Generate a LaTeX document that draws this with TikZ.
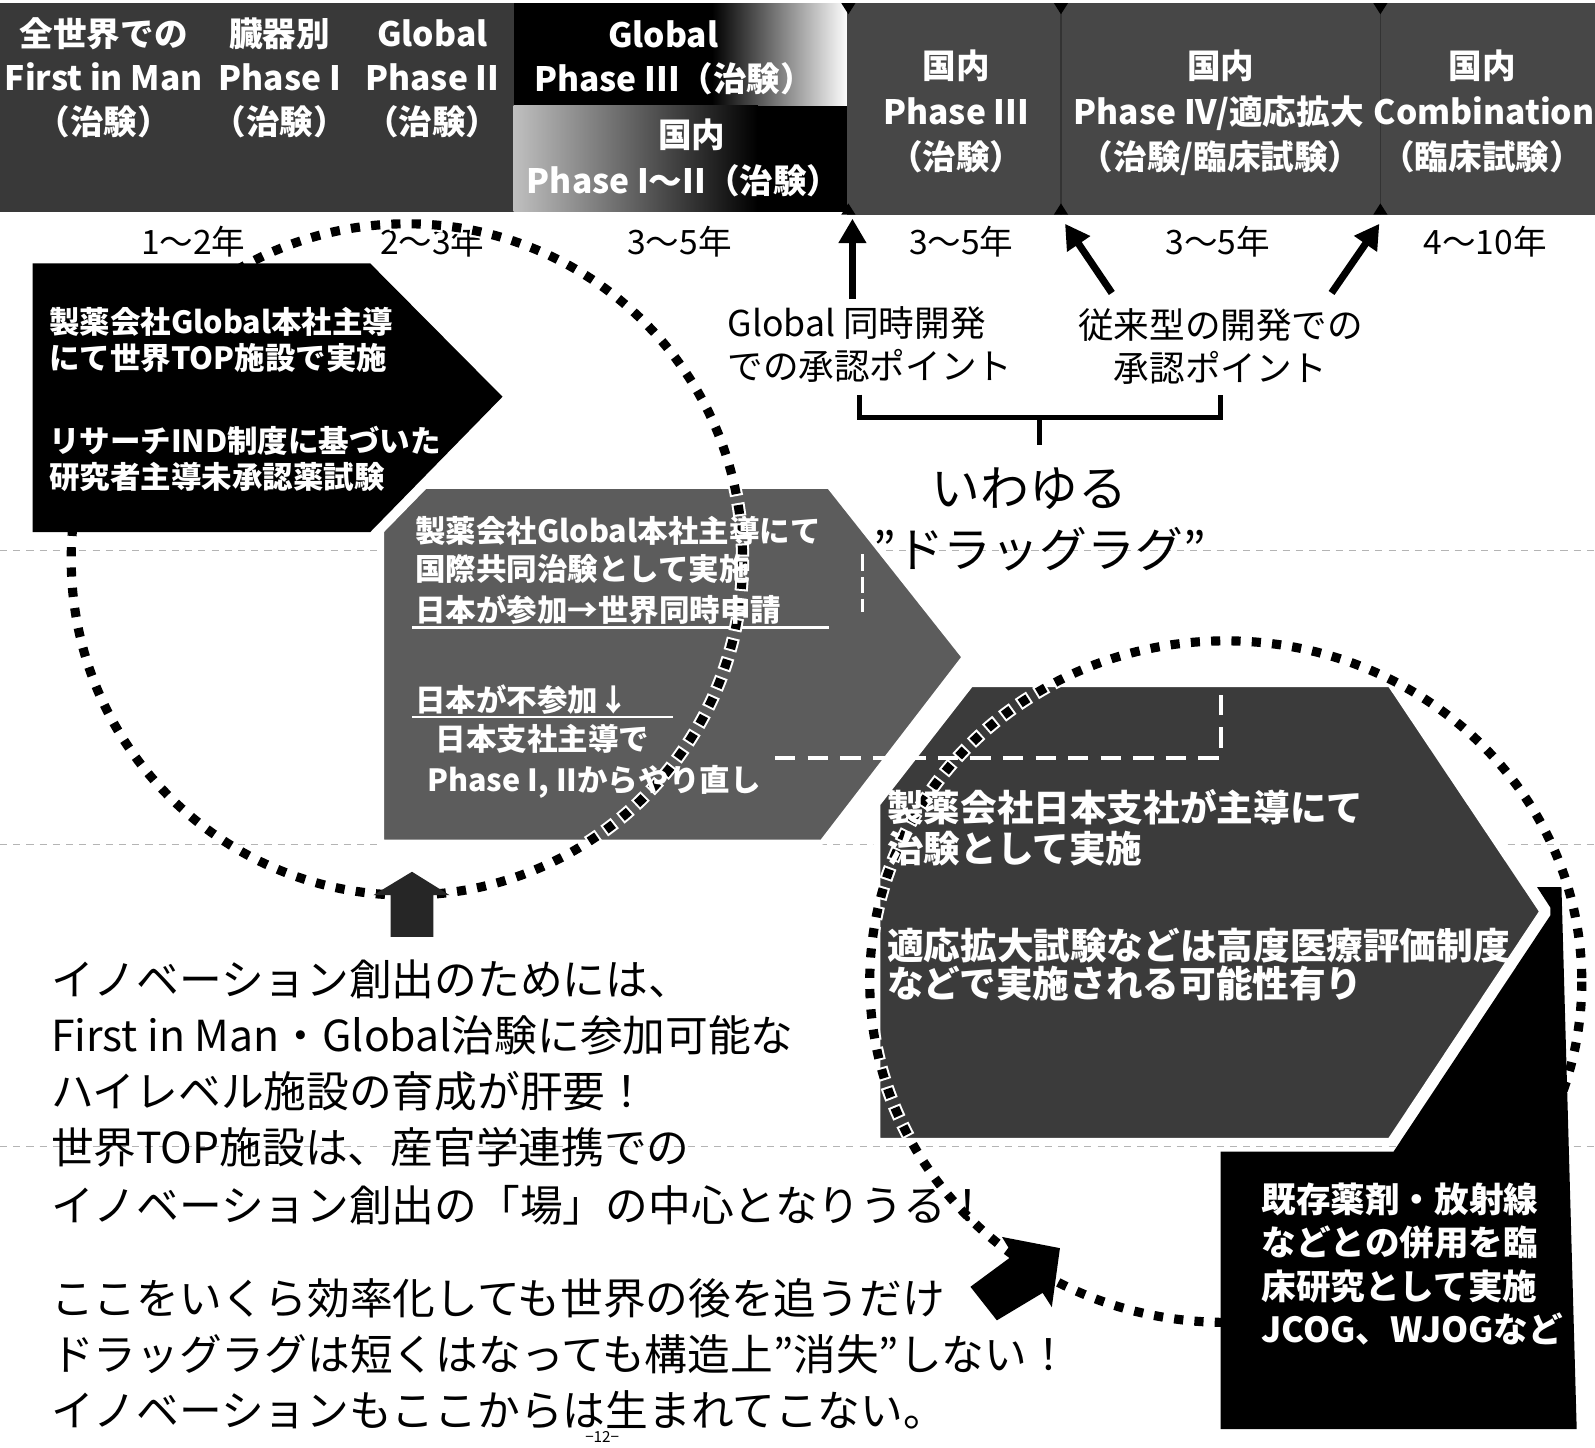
\documentclass[tikz,border=0pt]{standalone}
\usepackage{fontspec}
\setmainfont{Noto Sans CJK JP}
\usetikzlibrary{arrows.meta}
\definecolor{bandL}{HTML}{393939}
\definecolor{bandR}{HTML}{474747}
\definecolor{midgray}{HTML}{5C5C5C}
\definecolor{darkshape}{HTML}{3B3B3B}
\definecolor{scanline}{HTML}{B4B4B4}
\newcommand\myfs[2]{\fontsize{#1}{#2}\selectfont}
\begin{document}
\begin{tikzpicture}[x=1pt,y=-1pt,
  every node/.style={inner sep=0pt},
  hd/.style={text=white, font=\bfseries\myfs{33}{40}, anchor=base},
  yr/.style={font=\myfs{33}{40}, anchor=base},
  lb/.style={font=\myfs{35}{42}},
  wb/.style={text=white, font=\bfseries\myfs{30}{38}, anchor=base west},
  rb/.style={text=white, font=\bfseries\myfs{36}{42}, anchor=base west},
  kb/.style={text=white, font=\bfseries\myfs{34}{42}, anchor=base west},
  bt/.style={font=\myfs{42}{50}, anchor=base west},
  arr/.style={line width=7pt, -{Triangle[length=24pt,width=26pt]}},
  dotw/.style={white, line width=13pt, dash pattern=on 13pt off 7pt, dash phase=2pt},
  dotk/.style={black, line width=9pt, dash pattern=on 9pt off 11pt},
  wdash/.style={white, line width=4pt, dash pattern=on 20pt off 12pt},
  scan/.style={scanline, line width=1.5pt, dash pattern=on 7pt off 6pt}
]
\fill[white] (0,0) rectangle (1568,1423);
\useasboundingbox (0,0) rectangle (1568,1423);

% faint scan lines
\draw[scan] (0,541) -- (1568,541);
\draw[scan] (0,830) -- (1568,830);
\draw[scan] (0,1127) -- (1568,1127);

% top band
\fill[bandL] (0,3) rectangle (506,208);
\fill[black] (505,3) rectangle (834,104);
\shade[left color=black, right color=white] (700,3) rectangle (834,104);
\shade[left color=gray!50, right color=black] (505,104) rectangle (745,208);
\fill[black] (744,104) rectangle (834,208);
\fill[bandR] (833,3) rectangle (1568,211);
\draw[black!80, line width=1.2pt] (1043,3) -- (1043,211) (1357,3) -- (1357,211);
\foreach \tx in {834,1043,1357} {
  \fill[black] (\tx-7,3) -- (\tx+7,3) -- (\tx,14) -- cycle;
  \fill[black] (\tx-7,211) -- (\tx+7,211) -- (\tx,200) -- cycle;
}

% headings
\node[hd] (a1) at (102,46) {全世界での};
\node[hd] (a2) at (102,89) {First in Man};
\node[hd] (a3) at (102,132) {（治験）};
\node[hd] (b1) at (275,46) {臓器別};
\node[hd] (b2) at (275,89) {Phase I};
\node[hd] (b3) at (275,132) {（治験）};
\node[hd] (c1) at (425,46) {Global};
\node[hd] (c2) at (425,89) {Phase II};
\node[hd] (c3) at (425,132) {（治験）};
\node[hd] (d1) at (652,47) {Global};
\node[hd, anchor=base west] (d2) at (525,90) {Phase III（治験）};
\node[hd] (e1) at (680,145) {国内};
\node[hd] (e2) at (672,190) {Phase I〜II（治験）};
\node[hd] (f1) at (940,77) {国内};
\node[hd] (f2) at (940,122) {Phase III};
\node[hd] (f3) at (940,167) {（治験）};
\node[hd] (g1) at (1200,77) {国内};
\node[hd] (g2) at (1198,122) {Phase IV/適応拡大};
\node[hd] (g3) at (1200,167) {（治験/臨床試験）};
\node[hd] (h1) at (1457,77) {国内};
\node[hd] (h2) at (1459,122) {Combination};
\node[hd] (h3) at (1457,167) {（臨床試験）};

% years
\node[yr] (y1) at (190,250) {1〜2年};
\node[yr] (y2) at (425,250) {2〜3年};
\node[yr] (y3) at (668,250) {3〜5年};
\node[yr] (y4) at (945,250) {3〜5年};
\node[yr] (y5) at (1197,250) {3〜5年};
\node[yr] (y6) at (1460,250) {4〜10年};

% approval point arrows
\coordinate (p1) at (838,215); \coordinate (s1) at (838,294);
\coordinate (p2) at (1047,220); \coordinate (s2) at (1093,288);
\coordinate (p3) at (1356,220); \coordinate (s3) at (1309,288);
\draw[arr] (s1) -- (p1);
\draw[arr] (s2) -- (p2);
\draw[arr] (s3) -- (p3);

\node[lb, anchor=base west] (gA1) at (715,331) {Global 同時開発};
\node[lb, anchor=base west] (gA2) at (715,373) {での承認ポイント};
\node[lb, anchor=base] (gB1) at (1200,333) {従来型の開発での};
\node[lb, anchor=base] (gB2) at (1200,375) {承認ポイント};

% bracket
\coordinate (bL) at (845,388); \coordinate (bR) at (1200,388);
\coordinate (bM) at (1022,410); \coordinate (bS) at (1022,437);
\draw[line width=5pt] (bL) -- (845,410) -- (1200,410) -- (bR);
\draw[line width=5pt] (bM) -- (bS);

\node[font=\myfs{48}{58}, anchor=base] (iw) at (1012,498) {いわゆる};
\node[font=\myfs{47}{58}, anchor=base] (dl) at (1022,558) {”ドラッグラグ”};

% middle gray box
\filldraw[fill=midgray, draw=white, line width=5pt, line join=round]
  (375,522) -- (418,478) -- (815,478) -- (948,646) -- (808,828) -- (375,828) -- cycle;
% big right shape
\filldraw[fill=darkshape, draw=white, line width=7pt, line join=round]
  (954,672) -- (1367,672) -- (1517,896) -- (1367,1122) -- (862,1122) -- (862,790) -- cycle;

% white dashed guides
\draw[wdash] (762,745) -- (1200,745) -- (1200,676);
\draw[white, line width=3pt, dash pattern=on 16pt off 6pt] (848,545) -- (848,602);
\draw[white, line width=2.5pt] (405,617) -- (815,617);
\draw[white, line width=2.5pt] (405,705) -- (662,705);

% dotted circles
\draw[dotw] (400,550) circle[radius=330];
\draw[dotk] (400,550) circle[radius=330];
\draw[dotw] (1205,965) ellipse[x radius=350, y radius=335];
\draw[dotk] (1205,965) ellipse[x radius=350, y radius=335];

% left black arrow (hides the circle inside it)
\fill[black] (32,259) -- (364,259) -- (494,390) -- (364,523) -- (32,523) -- cycle;
% black box (hides the ellipse inside it)
\fill[black] (1200,1132) -- (1370,1132) -- (1524,900) -- (1524,892) -- (1511,872) -- (1535,872) -- (1550,1405) -- (1200,1405) -- cycle;

% block arrows
\fill[black!85] (405,857) -- (442,880) -- (426,880) -- (426,921) -- (384,921) -- (384,880) -- (367,880) -- cycle;
\fill[black] (1042,1227) -- (985,1216) -- (996,1234) -- (954,1265) -- (980,1298) -- (1025,1271) -- (1034,1285) -- cycle;

% text in left arrow
\node[wb] (L1) at (48,328) {製薬会社Global本社主導};
\node[wb] (L2) at (48,363) {にて世界TOP施設で実施};
\node[wb] (L3) at (48,445) {リサーチIND制度に基づいた};
\node[wb] (L4) at (48,480) {研究者主導未承認薬試験};

% text in gray box
\node[wb] (M1) at (408,533) {製薬会社Global本社主導にて};
\node[wb] (M2) at (408,571) {国際共同治験として実施};
\node[wb] (M3) at (408,611) {日本が参加→世界同時申請};
\node[wb] (M4) at (408,699) {日本が不参加↓};
\node[wb] (M5) at (428,738) {日本支社主導で};
\node[wb] (M6) at (420,778) {Phase I, IIからやり直し};

% text in big right shape
\node[rb] (R1) at (872,808) {製薬会社日本支社が主導にて};
\node[rb] (R2) at (872,848) {治験として実施};
\node[rb] (R3) at (872,943) {適応拡大試験などは高度医療評価制度};
\node[rb] (R4) at (872,981) {などで実施される可能性有り};

% text in black box
\node[kb] (K1) at (1240,1192) {既存薬剤・放射線};
\node[kb] (K2) at (1240,1234) {などとの併用を臨};
\node[kb] (K3) at (1240,1277) {床研究として実施};
\node[kb] (K4) at (1240,1320) {JCOG、WJOGなど};

% bottom text
\node[bt] (T1) at (50,979) {イノベーション創出のためには、};
\node[bt] (T2) at (50,1034) {First in Man・Global治験に参加可能な};
\node[bt] (T3) at (50,1089) {ハイレベル施設の育成が肝要！};
\node[bt] (T4) at (50,1144) {世界TOP施設は、産官学連携での};
\node[bt] (T5) at (50,1201) {イノベーション創出の「場」の中心となりうる！};
\node[bt] (T6) at (50,1292) {ここをいくら効率化しても世界の後を追うだけ};
\node[bt] (T7) at (50,1347) {ドラッグラグは短くはなっても構造上”消失”しない！};
\node[bt] (T8) at (50,1402) {イノベーションもここからは生まれてこない。};

\node[font=\myfs{15}{18}, anchor=north] (pg) at (592,1407) {−12−};
\end{tikzpicture}
\end{document}
